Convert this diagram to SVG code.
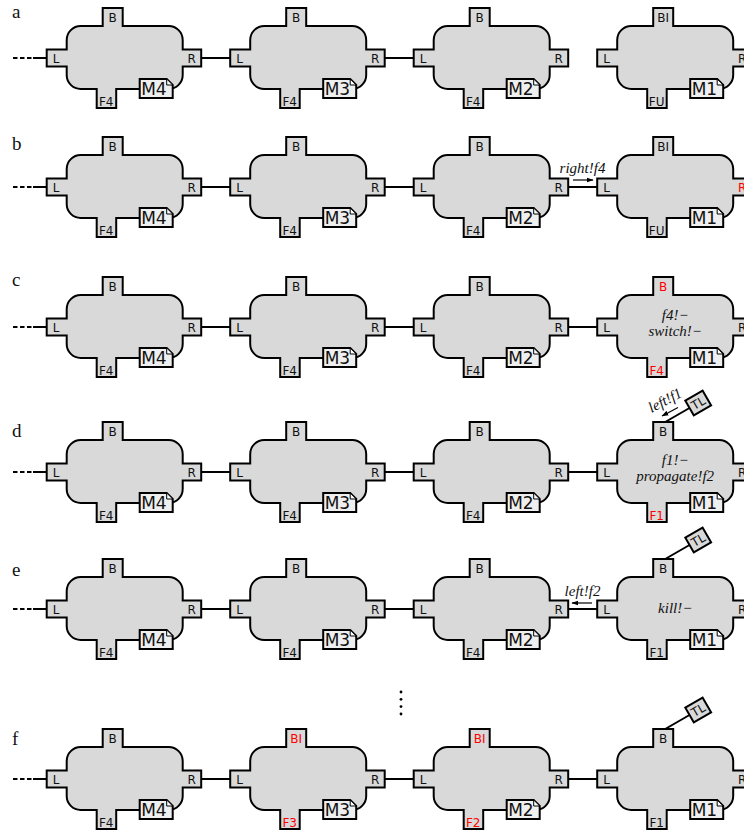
<svg xmlns="http://www.w3.org/2000/svg" xmlns:xlink="http://www.w3.org/1999/xlink" width="744" height="833" viewBox="0 0 744 833">
<style>
.shape{fill:#d9d9d9;stroke:#000;stroke-width:2;stroke-linejoin:miter}
.tag{fill:#efefef;stroke:#000;stroke-width:2}
.fold{fill:#fff;stroke:#000;stroke-width:1}
.p{font-family:"DejaVu Sans",sans-serif;font-size:12px;text-anchor:middle;fill:#111}
.m{font-family:"DejaVu Sans",sans-serif;font-size:17px;fill:#111}
.red{fill:#f00}
.math{font-family:"Liberation Serif",serif;font-style:italic;font-size:15px;text-anchor:middle;fill:#111}
.lab{font-family:"Liberation Serif",serif;font-size:19px;fill:#111}
.conn{stroke:#000;stroke-width:2;fill:none}
.arr{stroke:#000;stroke-width:1.2;fill:none}
.tl{fill:#d9d9d9;stroke:#000;stroke-width:2}
</style>
<defs>
<path id="body" class="shape" d="M34,-32 H56 V-50 H76 V-32 H122 A14 14 0 0 1 136,-18 V-8.5 H154.5 V8.5 H136 V17 A14 14 0 0 1 122,31 H69.5 V50 H50 V31 H34 A14 14 0 0 1 20,17 V8.5 H0 V-8.5 H20 V-18 A14 14 0 0 1 34,-32 Z"/>
<g id="tagshape">
<path class="tag" d="M93,21 H120 L126,27 V40 H93 Z"/>
<path class="fold" d="M120,21 L126,27 H120 Z"/>
</g>
<g id="tlbox">
<line class="conn" x1="68" y1="-50" x2="92.3" y2="-64"/>
<g transform="translate(101,-69) rotate(-30)">
<rect class="tl" x="-10" y="-8.5" width="20" height="17"/>
<text class="p" x="0" y="4.3" font-size="11">TL</text>
</g>
</g>
<marker id="ah" viewBox="0 0 10 10" refX="9" refY="5" markerWidth="7" markerHeight="7" orient="auto" markerUnits="userSpaceOnUse">
<path d="M0,1.5 L10,5 L0,8.5 Z" fill="#000"/>
</marker>
</defs>

<g id="row-labels">
<text class="lab" x="12" y="18">a</text>
<text class="lab" x="12" y="150">b</text>
<text class="lab" x="12" y="286">c</text>
<text class="lab" x="12" y="437">d</text>
<text class="lab" x="12" y="576">e</text>
<text class="lab" x="12" y="745">f</text>
</g>

<g id="connectors">
<path class="conn" d="M13,58 H33" stroke-dasharray="4.5 2.5"/>
<path class="conn" d="M33,58 H47"/>
<path class="conn" d="M201,58 H230.2 M384.7,58 H413.7"/>
<path class="conn" d="M13,187 H33" stroke-dasharray="4.5 2.5"/>
<path class="conn" d="M33,187 H47 M201,187 H230.2 M384.7,187 H413.7 M568.2,187 H597.2"/>
<path class="arr" d="M573,180 H593" marker-end="url(#ah)"/>
<text class="math" x="582.5" y="173" font-size="14">right!f4</text>
<path class="conn" d="M13,327 H33" stroke-dasharray="4.5 2.5"/>
<path class="conn" d="M33,327 H47 M201,327 H230.2 M384.7,327 H413.7 M568.2,327 H597.2"/>
<path class="conn" d="M13,472 H33" stroke-dasharray="4.5 2.5"/>
<path class="conn" d="M33,472 H47 M201,472 H230.2 M384.7,472 H413.7 M568.2,472 H597.2"/>
<g transform="translate(666,402) rotate(-28)">
<text class="math" x="0" y="3" font-size="14">left!f1</text>
<path class="arr" d="M8,10.5 H-10" marker-end="url(#ah)"/>
</g>
<path class="conn" d="M13,609 H33" stroke-dasharray="4.5 2.5"/>
<path class="conn" d="M33,609 H47 M201,609 H230.2 M384.7,609 H413.7 M568.2,609 H597.2"/>
<path class="arr" d="M592,603 H572" marker-end="url(#ah)"/>
<text class="math" x="582.5" y="596" font-size="14">left!f2</text>
<path class="conn" d="M13,779 H33" stroke-dasharray="4.5 2.5"/>
<path class="conn" d="M33,779 H47 M201,779 H230.2 M384.7,779 H413.7 M568.2,779 H597.2"/>
</g>

<g id="vdots" fill="#000">
<circle cx="401" cy="692" r="1.4"/>
<circle cx="401" cy="699.3" r="1.4"/>
<circle cx="401" cy="706.6" r="1.4"/>
<circle cx="401" cy="714" r="1.4"/>
</g>

<g id="a1" transform="translate(46.7,58)"><use href="#body"/><use href="#tagshape"/><text class="p" x="9.5" y="4.5">L</text><text class="p" x="145" y="4.5">R</text><text class="p" x="66" y="-36.5">B</text><text class="p" x="59.5" y="47.5">F4</text><text class="m" x="94.5" y="37">M4</text></g>
<g id="a2" transform="translate(230.2,58)"><use href="#body"/><use href="#tagshape"/><text class="p" x="9.5" y="4.5">L</text><text class="p" x="145" y="4.5">R</text><text class="p" x="66" y="-36.5">B</text><text class="p" x="59.5" y="47.5">F4</text><text class="m" x="94.5" y="37">M3</text></g>
<g id="a3" transform="translate(413.7,58)"><use href="#body"/><use href="#tagshape"/><text class="p" x="9.5" y="4.5">L</text><text class="p" x="145" y="4.5">R</text><text class="p" x="66" y="-36.5">B</text><text class="p" x="59.5" y="47.5">F4</text><text class="m" x="94.5" y="37">M2</text></g>
<g id="a4" transform="translate(597.2,58)"><use href="#body"/><use href="#tagshape"/><text class="p" x="9.5" y="4.5">L</text><text class="p" x="145" y="4.5">R</text><text class="p" x="66" y="-36.5">BI</text><text class="p" x="59.5" y="47.5">FU</text><text class="m" x="94.5" y="37">M1</text></g>

<g id="b1" transform="translate(46.7,187)"><use href="#body"/><use href="#tagshape"/><text class="p" x="9.5" y="4.5">L</text><text class="p" x="145" y="4.5">R</text><text class="p" x="66" y="-36.5">B</text><text class="p" x="59.5" y="47.5">F4</text><text class="m" x="94.5" y="37">M4</text></g>
<g id="b2" transform="translate(230.2,187)"><use href="#body"/><use href="#tagshape"/><text class="p" x="9.5" y="4.5">L</text><text class="p" x="145" y="4.5">R</text><text class="p" x="66" y="-36.5">B</text><text class="p" x="59.5" y="47.5">F4</text><text class="m" x="94.5" y="37">M3</text></g>
<g id="b3" transform="translate(413.7,187)"><use href="#body"/><use href="#tagshape"/><text class="p" x="9.5" y="4.5">L</text><text class="p" x="145" y="4.5">R</text><text class="p" x="66" y="-36.5">B</text><text class="p" x="59.5" y="47.5">F4</text><text class="m" x="94.5" y="37">M2</text></g>
<g id="b4" transform="translate(597.2,187)"><use href="#body"/><use href="#tagshape"/><text class="p" x="9.5" y="4.5">L</text><text class="p red" x="145" y="4.5">R</text><text class="p" x="66" y="-36.5">BI</text><text class="p" x="59.5" y="47.5">FU</text><text class="m" x="94.5" y="37">M1</text></g>

<g id="c1" transform="translate(46.7,327)"><use href="#body"/><use href="#tagshape"/><text class="p" x="9.5" y="4.5">L</text><text class="p" x="145" y="4.5">R</text><text class="p" x="66" y="-36.5">B</text><text class="p" x="59.5" y="47.5">F4</text><text class="m" x="94.5" y="37">M4</text></g>
<g id="c2" transform="translate(230.2,327)"><use href="#body"/><use href="#tagshape"/><text class="p" x="9.5" y="4.5">L</text><text class="p" x="145" y="4.5">R</text><text class="p" x="66" y="-36.5">B</text><text class="p" x="59.5" y="47.5">F4</text><text class="m" x="94.5" y="37">M3</text></g>
<g id="c3" transform="translate(413.7,327)"><use href="#body"/><use href="#tagshape"/><text class="p" x="9.5" y="4.5">L</text><text class="p" x="145" y="4.5">R</text><text class="p" x="66" y="-36.5">B</text><text class="p" x="59.5" y="47.5">F4</text><text class="m" x="94.5" y="37">M2</text></g>
<g id="c4" transform="translate(597.2,327)"><use href="#body"/><use href="#tagshape"/><text class="p" x="9.5" y="4.5">L</text><text class="p" x="145" y="4.5">R</text><text class="p red" x="66" y="-36.5">B</text><text class="p red" x="59.5" y="47.5">F4</text><text class="m" x="94.5" y="37">M1</text><text class="math" x="78" y="-7">f4!−</text><text class="math" x="78" y="9">switch!−</text></g>

<g id="d1" transform="translate(46.7,472)"><use href="#body"/><use href="#tagshape"/><text class="p" x="9.5" y="4.5">L</text><text class="p" x="145" y="4.5">R</text><text class="p" x="66" y="-36.5">B</text><text class="p" x="59.5" y="47.5">F4</text><text class="m" x="94.5" y="37">M4</text></g>
<g id="d2" transform="translate(230.2,472)"><use href="#body"/><use href="#tagshape"/><text class="p" x="9.5" y="4.5">L</text><text class="p" x="145" y="4.5">R</text><text class="p" x="66" y="-36.5">B</text><text class="p" x="59.5" y="47.5">F4</text><text class="m" x="94.5" y="37">M3</text></g>
<g id="d3" transform="translate(413.7,472)"><use href="#body"/><use href="#tagshape"/><text class="p" x="9.5" y="4.5">L</text><text class="p" x="145" y="4.5">R</text><text class="p" x="66" y="-36.5">B</text><text class="p" x="59.5" y="47.5">F4</text><text class="m" x="94.5" y="37">M2</text></g>
<g id="d4" transform="translate(597.2,472)"><use href="#tlbox"/><use href="#body"/><use href="#tagshape"/><text class="p" x="9.5" y="4.5">L</text><text class="p" x="145" y="4.5">R</text><text class="p" x="66" y="-36.5">B</text><text class="p red" x="59.5" y="47.5">F1</text><text class="m" x="94.5" y="37">M1</text><text class="math" x="78" y="-7">f1!−</text><text class="math" x="78" y="9">propagate!f2</text></g>

<g id="e1" transform="translate(46.7,609)"><use href="#body"/><use href="#tagshape"/><text class="p" x="9.5" y="4.5">L</text><text class="p" x="145" y="4.5">R</text><text class="p" x="66" y="-36.5">B</text><text class="p" x="59.5" y="47.5">F4</text><text class="m" x="94.5" y="37">M4</text></g>
<g id="e2" transform="translate(230.2,609)"><use href="#body"/><use href="#tagshape"/><text class="p" x="9.5" y="4.5">L</text><text class="p" x="145" y="4.5">R</text><text class="p" x="66" y="-36.5">B</text><text class="p" x="59.5" y="47.5">F4</text><text class="m" x="94.5" y="37">M3</text></g>
<g id="e3" transform="translate(413.7,609)"><use href="#body"/><use href="#tagshape"/><text class="p" x="9.5" y="4.5">L</text><text class="p" x="145" y="4.5">R</text><text class="p" x="66" y="-36.5">B</text><text class="p" x="59.5" y="47.5">F4</text><text class="m" x="94.5" y="37">M2</text></g>
<g id="e4" transform="translate(597.2,609)"><use href="#tlbox"/><use href="#body"/><use href="#tagshape"/><text class="p" x="9.5" y="4.5">L</text><text class="p" x="145" y="4.5">R</text><text class="p" x="66" y="-36.5">B</text><text class="p" x="59.5" y="47.5">F1</text><text class="m" x="94.5" y="37">M1</text><text class="math" x="78" y="4">kill!−</text></g>

<g id="f1" transform="translate(46.7,779)"><use href="#body"/><use href="#tagshape"/><text class="p" x="9.5" y="4.5">L</text><text class="p" x="145" y="4.5">R</text><text class="p" x="66" y="-36.5">B</text><text class="p" x="59.5" y="47.5">F4</text><text class="m" x="94.5" y="37">M4</text></g>
<g id="f2" transform="translate(230.2,779)"><use href="#body"/><use href="#tagshape"/><text class="p" x="9.5" y="4.5">L</text><text class="p" x="145" y="4.5">R</text><text class="p red" x="66" y="-36.5">BI</text><text class="p red" x="59.5" y="47.5">F3</text><text class="m" x="94.5" y="37">M3</text></g>
<g id="f3" transform="translate(413.7,779)"><use href="#body"/><use href="#tagshape"/><text class="p" x="9.5" y="4.5">L</text><text class="p" x="145" y="4.5">R</text><text class="p red" x="66" y="-36.5">BI</text><text class="p red" x="59.5" y="47.5">F2</text><text class="m" x="94.5" y="37">M2</text></g>
<g id="f4" transform="translate(597.2,779)"><use href="#tlbox"/><use href="#body"/><use href="#tagshape"/><text class="p" x="9.5" y="4.5">L</text><text class="p" x="145" y="4.5">R</text><text class="p" x="66" y="-36.5">B</text><text class="p" x="59.5" y="47.5">F1</text><text class="m" x="94.5" y="37">M1</text></g>
</svg>
